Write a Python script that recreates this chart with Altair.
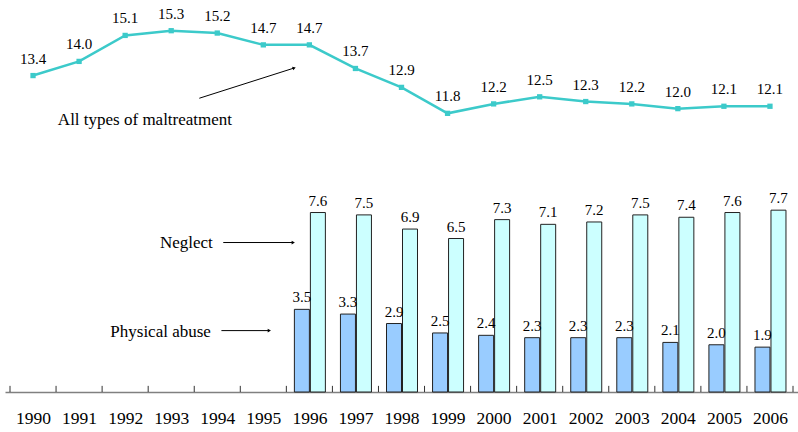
import altair as alt
import pandas as pd

# Rates per 1,000 children
years = list(range(1990, 2007))
all_types = [13.4, 14.0, 15.1, 15.3, 15.2, 14.7, 14.7, 13.7, 12.9, 11.8,
             12.2, 12.5, 12.3, 12.2, 12.0, 12.1, 12.1]

bar_years = list(range(1996, 2007))
physical = [3.5, 3.3, 2.9, 2.5, 2.4, 2.3, 2.3, 2.3, 2.1, 2.0, 1.9]
neglect = [7.6, 7.5, 6.9, 6.5, 7.3, 7.1, 7.2, 7.5, 7.4, 7.6, 7.7]

# callout texts, placed in year-slot units along x and rate units along y
note_labels = ["All types of maltreatment", "Neglect", "Physical abuse"]
note_u = [2.93, 3.83, 3.27]
note_y = [11.5, 6.3, 2.56]
# pointer lines: start (u, y) -> end (u, y)
ptr_u0 = [4.11, 4.63, 4.59]
ptr_y0 = [12.44, 6.33, 2.6]
ptr_u1 = [6.17, 6.15, 5.63]
ptr_y1 = [13.72, 6.33, 2.6]
ptr_angle = [342, 0, 0]

LINE_COLOR = "#3CCACA"
PHYS_COLOR = "#99CCFF"
NEGL_COLOR = "#CCFFFF"
FONT = "Liberation Serif"
FIRST = years[0]

line_df = pd.DataFrame({"year": years, "rate": all_types})
phys_df = pd.DataFrame({"year": bar_years, "rate": physical})
negl_df = pd.DataFrame({"year": bar_years, "rate": neglect})
edge_df = pd.DataFrame({"u": list(range(len(years) + 1)), "lo": 0.0, "hi": 0.26})
note_df = pd.DataFrame({"u": note_u, "rate": note_y, "label": note_labels})
ptr_df = pd.DataFrame({"u": ptr_u0, "rate": ptr_y0, "u2": ptr_u1,
                       "rate2": ptr_y1, "angle": ptr_angle})

# one slot per year: the year sits at the middle of its slot
slot_expr = f"datum.year - {FIRST} + 0.5"
u_scale = alt.Scale(domain=[0, len(years)], nice=False, zero=True)
y_scale = alt.Scale(domain=[0, 16.6], nice=False, zero=True)

# the same axis definition is given to every layer so the merged axis stays on
x_axis = alt.Axis(
    title=None, values=[y - FIRST + 0.5 for y in years],
    labelExpr=f"toString(datum.value + {FIRST - 0.5})",
    ticks=False, grid=False, labelAngle=0,
    labelFont=FONT, labelFontSize=17.5, labelColor="#000",
    labelPadding=17, labelFlush=False, labelOverlap=False,
    domainColor="#808080", domainWidth=1.5)


def U(field="u"):
    return alt.X(f"{field}:Q", scale=u_scale, axis=x_axis)


def Yq(field="rate"):
    return alt.Y(f"{field}:Q", scale=y_scale, axis=None)


def by_year(df):
    return alt.Chart(df).transform_calculate(u=slot_expr)


def bars_of(df, color, shift):
    return by_year(df).mark_bar(
        width=15, xOffset=shift, color=color, stroke="#222", strokeWidth=1
    ).encode(x=U(), y=Yq())


def bar_text(df, shift):
    return by_year(df).mark_text(
        font=FONT, fontSize=15, dy=-12, dx=shift, baseline="middle", color="#000"
    ).encode(x=U(), y=Yq(), text=alt.Text("rate:Q", format=".1f"))


phys_bars = bars_of(phys_df, PHYS_COLOR, -7.5)
negl_bars = bars_of(negl_df, NEGL_COLOR, 8.5)
phys_text = bar_text(phys_df, -7.5)
negl_text = bar_text(negl_df, 8.5)

line = by_year(line_df).mark_line(color=LINE_COLOR, strokeWidth=2.5).encode(
    x=U(), y=Yq())
points = by_year(line_df).mark_point(
    shape="square", filled=True, size=28, color=LINE_COLOR, opacity=1).encode(
    x=U(), y=Yq())
line_text = by_year(line_df).mark_text(
    font=FONT, fontSize=15, dy=-17, baseline="middle", color="#000").encode(
    x=U(), y=Yq(), text=alt.Text("rate:Q", format=".1f"))

# small ticks rising from the axis line at the slot boundaries
ticks = alt.Chart(edge_df).mark_rule(color="#333", strokeWidth=1).encode(
    x=U(), y=Yq("lo"), y2="hi:Q")

notes = alt.Chart(note_df).mark_text(
    font=FONT, fontSize=17, color="#000", align="center",
    baseline="middle").encode(x=U(), y=Yq(), text="label:N")
pointers = alt.Chart(ptr_df).mark_rule(color="#000", strokeWidth=1).encode(
    x=U(), x2="u2:Q", y=Yq(), y2="rate2:Q")
heads = alt.Chart(ptr_df).mark_point(
    shape="triangle-right", filled=True, size=14, color="#000", opacity=1
).encode(x=U("u2"), y=Yq("rate2"), angle=alt.Angle("angle:Q", scale=None))

chart = alt.layer(
    phys_bars, negl_bars, phys_text, negl_text, ticks,
    line, points, line_text, notes, pointers, heads
).properties(
    width=798, height=432,
    autosize=alt.AutoSizeParams(type="fit", contains="padding"),
    padding={"left": 5, "top": 0, "right": 0, "bottom": 5},
    background="white",
).configure_view(stroke=None)

chart.save("out.html", embed_options={"renderer": "svg", "actions": False})
